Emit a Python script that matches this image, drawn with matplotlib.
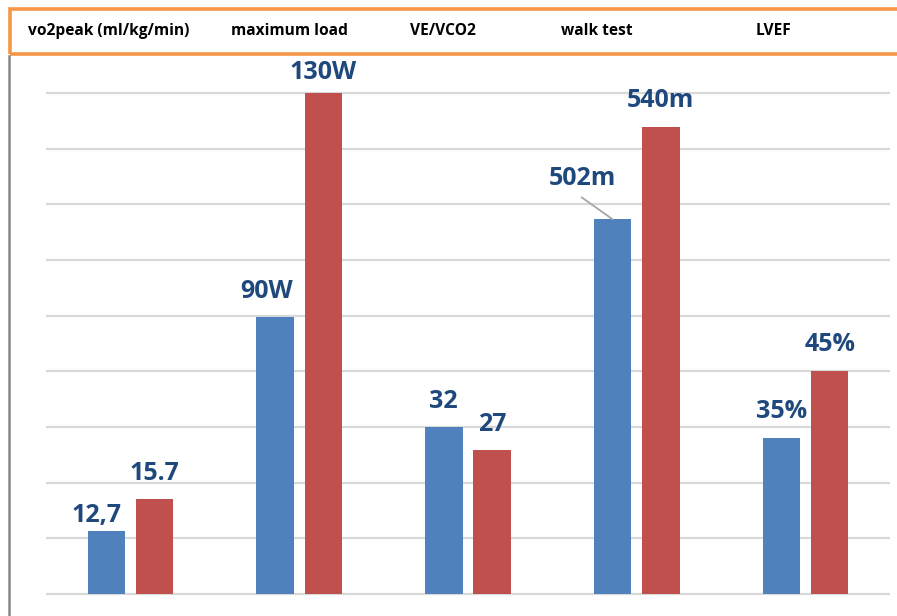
import matplotlib.pyplot as plt
from matplotlib.patches import Rectangle
from matplotlib.lines import Line2D

# chart data (bar heights in gridline units, as drawn in the reference)
categories = ['vo2peak (ml/kg/min)', 'maximum load', 'VE/VCO2', 'walk test', 'LVEF']
before = [1.13, 4.98, 3.0, 6.73, 2.80]
after = [1.71, 9.0, 2.59, 8.39, 4.0]
before_labels = ['12,7', '90W', '32', '502m', '35%']
after_labels = ['15.7', '130W', '27', '540m', '45%']

# layout helpers (pixels)
W, H = 897, 616
plt.rcParams['font.family'] = ['Open Sans', 'DejaVu Sans']

fig = plt.figure(figsize=(W / 100, H / 100), dpi=100)

unit = 55.67          # pixels per gridline step
base_px = 594         # y pixel of baseline
ymin, ymax = -0.05, 9.6
ax_bottom = H - (base_px - ymin * unit)
ax_height = (ymax - ymin) * unit
ax = fig.add_axes([46 / W, ax_bottom / H, (890 - 46) / W, ax_height / H])
ax.set_xlim(-0.5, 4.5)
ax.set_ylim(ymin, ymax)
for s in ax.spines.values():
    s.set_visible(False)
ax.set_xticks([])
ax.set_yticks([])
for g in range(10):
    ax.axhline(g, color='#D9D9D9', lw=1.6, zorder=0)

x = list(range(len(categories)))
off, bw = 0.143, 0.222
ax.bar([i - off for i in x], before, width=bw, color='#4F81BD', zorder=2)
ax.bar([i + off for i in x], after, width=bw, color='#C0504D', zorder=2)

lab_color = '#1F497D'
# label shifts in pixels (dx, dy) relative to bar top centre
before_shift = [(-10, 9), (-8, 19), (-1, 19), (-30, 34), (0, 20)]
after_shift = [(0, 19), (0, 14), (0, 19), (-1, 20), (0, 20)]

for i in x:
    ax.annotate(before_labels[i], xy=(i - off, before[i]), xytext=before_shift[i],
                textcoords='offset pixels', ha='center', va='baseline',
                fontsize=18, fontweight='bold', color=lab_color, zorder=3)
    ax.annotate(after_labels[i], xy=(i + off, after[i]), xytext=after_shift[i],
                textcoords='offset pixels', ha='center', va='baseline',
                fontsize=18, fontweight='bold', color=lab_color, zorder=3)

# leader line for walk test label
ax.annotate('', xy=(3 - off, before[3]), xytext=(-31, 22), textcoords='offset pixels',
            arrowprops=dict(arrowstyle='-', color='#A6A6A6', lw=1.3, shrinkA=0, shrinkB=0))

# header box with category names
fig.patches.append(Rectangle((10 / W, 1 - 54 / H), 1.0, 45 / H, transform=fig.transFigure,
                             fill=False, edgecolor='#F79646', lw=2.6, clip_on=False))
fig.lines.append(Line2D([8.5 / W, 8.5 / W], [0, 1 - 56 / H], transform=fig.transFigure,
                        color='#878787', lw=1.8))
header_x = [109, 289, 443, 597, 773]
for name, hx in zip(categories, header_x):
    fig.text(hx / W, 1 - 31 / H, name, ha='center', va='center',
             fontsize=11.2, fontweight='bold', color='black')

fig.savefig('out.png', dpi=100)
